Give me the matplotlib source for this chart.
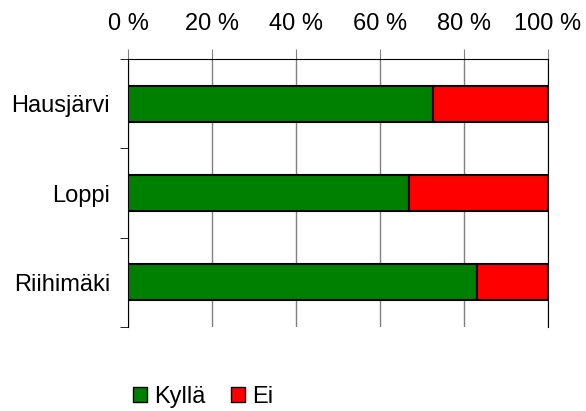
import numpy as np
import matplotlib.pyplot as plt
from matplotlib.patches import Patch

plt.rcParams['font.family'] = ['Liberation Sans', 'DejaVu Sans']

kunnat = ["Hausjärvi", "Loppi", "Riihimäki"]
kylla = [72.6, 66.9, 83.1]
ei = [100 - v for v in kylla]
ticks = [0, 20, 40, 60, 80, 100]

fig = plt.figure(figsize=(5.86, 4.11), dpi=100)
ax = fig.add_axes([128 / 586, 1 - 327 / 411, 420 / 586, 268 / 411])

y = np.arange(len(kunnat))
ax.barh(y, kylla, height=0.4, color="#008000", edgecolor="black", linewidth=1.5, zorder=3)
ax.barh(y, ei, left=kylla, height=0.4, color="#ff0000", edgecolor="black", linewidth=1.5, zorder=3)

ax.set_xlim(0, 100)
ax.set_ylim(len(kunnat) - 0.5, -0.5)
ax.set_xticks(ticks)
ax.set_xticklabels([f"{t} %" for t in ticks], fontsize=17)
ax.xaxis.tick_top()
ax.tick_params(axis="x", length=7, color="#808080", pad=10)
ax.grid(axis="x", color="#808080", linewidth=1, zorder=0)

ax.set_yticks(y)
ax.set_yticklabels(kunnat, fontsize=17)
ax.set_yticks(np.arange(len(kunnat) + 1) - 0.5, minor=True)
ax.tick_params(axis="y", which="major", length=0, pad=13)
ax.tick_params(axis="y", which="minor", length=6, color="black")

ax.spines["bottom"].set_visible(False)
for s in ["right", "left", "top"]:
    ax.spines[s].set_color("black")

handles = [Patch(facecolor="#008000", edgecolor="black", label="Kyllä"),
           Patch(facecolor="#ff0000", edgecolor="black", label="Ei")]
fig.legend(handles=handles, loc="center", bbox_to_anchor=(203 / 586, 1 - 397 / 411),
           ncol=2, frameon=False, fontsize=17, handlelength=0.6, handleheight=0.6,
           handletextpad=0.3, columnspacing=1.1, borderpad=0, borderaxespad=0)

fig.savefig("out.png", dpi=100)
